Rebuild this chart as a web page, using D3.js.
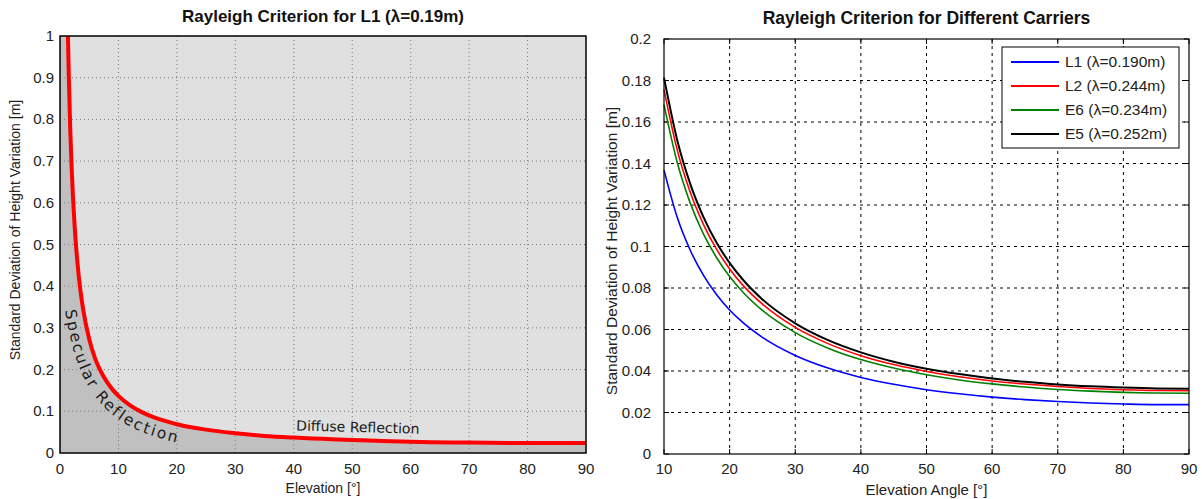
<!DOCTYPE html>
<html><head><meta charset="utf-8">
<script src="https://cdn.jsdelivr.net/npm/d3@7"></script>
<style>body{margin:0;background:#fff}</style>
</head><body>
<svg id="c" width="1202" height="499"></svg>
<script>
// ---------- data ----------
const leftTitle = "Rayleigh Criterion for L1 (\u03bb=0.19m)";
const rightTitle = "Rayleigh Criterion for Different Carriers";
const leftElev = [1.36,1.5,1.75,2,2.5,3,3.5,4,5,6,7,8,9,10,12,14,16,18,20,25,30,35,40,45,50,55,60,70,80,90];
const leftL1   = [1.0,0.907,0.778,0.681,0.545,0.454,0.389,0.341,0.273,0.227,0.195,0.171,0.152,0.137,0.114,0.098,0.086,0.077,0.069,0.056,0.0475,0.041,0.037,0.034,0.031,0.029,0.027,0.025,0.024,0.024];
const elev = [10,12,14,16,18,20,22,25,30,35,40,45,50,55,60,65,70,75,80,85,90];
const L1 = [0.1368,0.1142,0.0982,0.0862,0.0769,0.0694,0.0634,0.0562,0.0475,0.0414,0.0369,0.0336,0.0310,0.0290,0.0274,0.0262,0.0253,0.0246,0.0241,0.0238,0.0238];
const L2 = [0.1756,0.1467,0.1261,0.1107,0.0987,0.0892,0.0814,0.0722,0.0610,0.0532,0.0474,0.0431,0.0398,0.0372,0.0352,0.0337,0.0325,0.0316,0.0310,0.0306,0.0305];
const E6 = [0.1684,0.1407,0.1209,0.1061,0.0947,0.0855,0.0781,0.0692,0.0585,0.0510,0.0455,0.0414,0.0382,0.0357,0.0338,0.0323,0.0311,0.0303,0.0297,0.0294,0.0293];
const E5 = [0.1814,0.1515,0.1302,0.1143,0.1019,0.0921,0.0841,0.0745,0.0630,0.0549,0.0490,0.0445,0.0411,0.0385,0.0364,0.0348,0.0335,0.0326,0.0320,0.0316,0.0315];
const seriesNames = ["L1 (\u03bb=0.190m)","L2 (\u03bb=0.244m)","E6 (\u03bb=0.234m)","E5 (\u03bb=0.252m)"];
const seriesData = [L1, L2, E6, E5];
const seriesColors = ["#0000ff","#ff0000","#008000","#000000"];
const leftXTicks = [0,10,20,30,40,50,60,70,80,90];
const leftYTicks = [0,0.1,0.2,0.3,0.4,0.5,0.6,0.7,0.8,0.9,1];
const rightXTicks = [10,20,30,40,50,60,70,80,90];
const rightYTicks = [0,0.02,0.04,0.06,0.08,0.1,0.12,0.14,0.16,0.18,0.2];
const leftXLabel = "Elevation [\u00b0]";
const rightXLabel = "Elevation Angle [\u00b0]";
const yLabel = "Standard Deviation of Height Variation [m]";
const specularLabel = "Specular Reflection";
const diffuseLabel = "Diffuse Reflection";

// ---------- drawing ----------
const svg = d3.select("#c");
const FONT = "'Liberation Sans', Arial, Helvetica, sans-serif";
const fmt = d => String(+d.toFixed(3));

// ===== LEFT =====
const L = {x0:60, x1:586, y0:36, y1:453};
const xL = d3.scaleLinear().domain([0,90]).range([L.x0, L.x1]);
const yL = d3.scaleLinear().domain([0,1]).range([L.y1, L.y0]);
const gL = svg.append("g");
gL.append("rect").attr("x",L.x0).attr("y",L.y0).attr("width",L.x1-L.x0).attr("height",L.y1-L.y0).attr("fill","#e0e0e0");
const leftPts = leftElev.map((e,i)=>[e,leftL1[i]]);
const area = d3.area().x(d=>xL(d[0])).y0(yL(0)).y1(d=>yL(d[1])).curve(d3.curveMonotoneX);
gL.append("path").attr("d", area([[0,1]].concat(leftPts))).attr("fill","#c0c0c0");
// grid
gL.append("g").selectAll("line").data(leftXTicks.slice(1,-1)).join("line")
  .attr("x1",d=>xL(d)).attr("x2",d=>xL(d)).attr("y1",L.y0).attr("y2",L.y1)
  .attr("stroke","#7a7a7a").attr("stroke-dasharray","1,3");
gL.append("g").selectAll("line").data(leftYTicks.slice(1,-1)).join("line")
  .attr("y1",d=>yL(d)).attr("y2",d=>yL(d)).attr("x1",L.x0).attr("x2",L.x1)
  .attr("stroke","#7a7a7a").attr("stroke-dasharray","1,3");
// curve
const lineL = d3.line().x(d=>xL(d[0])).y(d=>yL(d[1])).curve(d3.curveMonotoneX);
const redPath = gL.append("path").attr("d", lineL(leftPts)).attr("fill","none").attr("stroke","#ff0000").attr("stroke-width",4);
// frame
gL.append("rect").attr("x",L.x0).attr("y",L.y0).attr("width",L.x1-L.x0).attr("height",L.y1-L.y0)
  .attr("fill","none").attr("stroke","#000").attr("stroke-width",1.5);
// ticks
gL.append("g").selectAll("text").data(leftXTicks).join("text")
  .attr("x",d=>xL(d)).attr("y",474).attr("text-anchor","middle")
  .attr("font-family",FONT).attr("font-size",15).attr("fill","#222").text(fmt);
gL.append("g").selectAll("text").data(leftYTicks).join("text")
  .attr("x",54).attr("y",d=>yL(d)+5).attr("text-anchor","end")
  .attr("font-family",FONT).attr("font-size",15).attr("fill","#222").text(fmt);
gL.append("text").attr("x",(L.x0+L.x1)/2).attr("y",22).attr("text-anchor","middle")
  .attr("font-family",FONT).attr("font-size",17).attr("font-weight","bold").attr("fill","#111").text(leftTitle);
gL.append("text").attr("x",(L.x0+L.x1)/2).attr("y",493).attr("text-anchor","middle")
  .attr("font-family",FONT).attr("font-size",14).attr("fill","#222").text(leftXLabel);
gL.append("text").attr("transform","translate(20,230) rotate(-90)").attr("text-anchor","middle")
  .attr("font-family",FONT).attr("font-size",14).attr("fill","#222").text(yLabel);

// Specular label along an offset of the curve
(function(){
  const node = redPath.node();
  const total = node.getTotalLength();
  const xStart = xL(3.9);
  const pts = [];
  const step = 2, off = 18;
  for (let s=0; s<total-step; s+=step){
    const p = node.getPointAtLength(s), q = node.getPointAtLength(s+step);
    if (p.x < xStart) continue;
    if (p.x > xL(40)) break;
    let tx=q.x-p.x, ty=q.y-p.y; const n=Math.hypot(tx,ty); tx/=n; ty/=n;
    pts.push([p.x - ty*off, p.y + tx*off]);
  }
  svg.append("defs").append("path").attr("id","specPath").attr("d", d3.line().curve(d3.curveBasis)(pts));
  svg.append("text").attr("font-family","'DejaVu Sans', Verdana, sans-serif").attr("font-size",15.5)
    .attr("letter-spacing","2.1px").attr("fill","#1a1a1a")
    .append("textPath").attr("href","#specPath").text(specularLabel);
})();
svg.append("text").attr("transform",`translate(${xL(40.4)},${yL(0.054)}) rotate(1.5)`)
  .attr("font-family","'DejaVu Sans', Verdana, sans-serif").attr("font-size",14).attr("fill","#1a1a1a").text(diffuseLabel);

// ===== RIGHT =====
const R = {x0:664, x1:1189, y0:39, y1:454};
const xR = d3.scaleLinear().domain([10,90]).range([R.x0, R.x1]);
const yR = d3.scaleLinear().domain([0,0.2]).range([R.y1, R.y0]);
const gR = svg.append("g");
gR.append("rect").attr("x",R.x0).attr("y",R.y0).attr("width",R.x1-R.x0).attr("height",R.y1-R.y0).attr("fill","#fff");
gR.append("g").selectAll("line").data(rightXTicks.slice(1,-1)).join("line")
  .attr("x1",d=>xR(d)).attr("x2",d=>xR(d)).attr("y1",R.y0).attr("y2",R.y1)
  .attr("stroke","#000").attr("stroke-dasharray","3,4");
gR.append("g").selectAll("line").data(rightYTicks.slice(1,-1)).join("line")
  .attr("y1",d=>yR(d)).attr("y2",d=>yR(d)).attr("x1",R.x0).attr("x2",R.x1)
  .attr("stroke","#000").attr("stroke-dasharray","3,4");
// inward tick marks
const tk = 5;
gR.append("g").selectAll("path").data(rightXTicks).join("path")
  .attr("d",d=>`M${xR(d)},${R.y1}v${-tk}M${xR(d)},${R.y0}v${tk}`).attr("stroke","#000");
gR.append("g").selectAll("path").data(rightYTicks).join("path")
  .attr("d",d=>`M${R.x0},${yR(d)}h${tk}M${R.x1},${yR(d)}h${-tk}`).attr("stroke","#000");
const lineR = d3.line().x(d=>xR(d[0])).y(d=>yR(d[1])).curve(d3.curveMonotoneX);
seriesData.forEach((s,i)=>{
  gR.append("path").attr("d", lineR(elev.map((e,j)=>[e,s[j]]))).attr("fill","none")
    .attr("stroke",seriesColors[i]).attr("stroke-width",i===3?2:1.6);
});
gR.append("rect").attr("x",R.x0).attr("y",R.y0).attr("width",R.x1-R.x0).attr("height",R.y1-R.y0)
  .attr("fill","none").attr("stroke","#000").attr("stroke-width",1.2);
gR.append("g").selectAll("text").data(rightXTicks).join("text")
  .attr("x",d=>xR(d)).attr("y",474).attr("text-anchor","middle")
  .attr("font-family",FONT).attr("font-size",15).attr("fill","#222").text(fmt);
gR.append("g").selectAll("text").data(rightYTicks).join("text")
  .attr("x",651).attr("y",d=>yR(d)+5).attr("text-anchor","end")
  .attr("font-family",FONT).attr("font-size",15).attr("fill","#222").text(fmt);
gR.append("text").attr("x",(R.x0+R.x1)/2).attr("y",24).attr("text-anchor","middle")
  .attr("font-family",FONT).attr("font-size",17.5).attr("font-weight","bold").attr("fill","#111").text(rightTitle);
gR.append("text").attr("x",(R.x0+R.x1)/2).attr("y",495).attr("text-anchor","middle")
  .attr("font-family",FONT).attr("font-size",15).attr("fill","#222").text(rightXLabel);
gR.append("text").attr("transform","translate(617,251) rotate(-90)").attr("text-anchor","middle")
  .attr("font-family",FONT).attr("font-size",15.5).attr("fill","#222").text(yLabel);
// legend
const lg = gR.append("g");
lg.append("rect").attr("x",1002).attr("y",47).attr("width",177).attr("height",101)
  .attr("fill","#fff").attr("stroke","#000").attr("stroke-width",1);
seriesNames.forEach((n,i)=>{
  const y = 62 + i*24;
  lg.append("line").attr("x1",1011).attr("x2",1059).attr("y1",y).attr("y2",y)
    .attr("stroke",seriesColors[i]).attr("stroke-width",2);
  lg.append("text").attr("x",1065).attr("y",y+5).attr("font-family",FONT).attr("font-size",15.5)
    .attr("fill","#222").text(n);
});
</script>
</body></html>
